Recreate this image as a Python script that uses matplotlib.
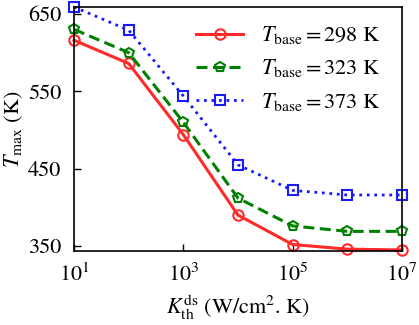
import matplotlib
matplotlib.use("Agg")
import matplotlib.pyplot as plt

k_values = [1e1, 1e2, 1e3, 1e4, 1e5, 1e6, 1e7]
t_298 = [616, 586, 494, 390, 352, 346, 345]
t_323 = [630, 600, 510, 412, 376, 369, 369]
t_373 = [659, 629, 544, 455, 422, 416, 416]
labels = [r'$T_{\rm base} = 298$ K', r'$T_{\rm base} = 323$ K', r'$T_{\rm base} = 373$ K']
x_ticks = [1e1, 1e3, 1e5, 1e7]
x_tick_labels = [r'$10^{1}$', r'$10^{3}$', r'$10^{5}$', r'$10^{7}$']
y_ticks = [350, 450, 550, 650]

plt.rcParams['font.family'] = ['STIXGeneral', 'DejaVu Serif']
plt.rcParams['mathtext.fontset'] = 'stix'

fig = plt.figure(figsize=(4.19, 3.25), dpi=100)
ax = fig.add_axes([0.1766, 0.2286, 0.9594 - 0.1766, 0.9785 - 0.2286])

ax.plot(k_values, t_298, color='#ff2a2a', ls='-', lw=2.2, marker='o', ms=7.5,
        mfc='none', mew=1.5, clip_on=False, label=labels[0])
ax.plot(k_values, t_323, color='#008000', ls=(0, (3.6, 1.8)), lw=2.2, marker='p', ms=7.5,
        mfc='none', mew=1.5, clip_on=False, label=labels[1])
ax.plot(k_values, t_373, color='#1a1aff', ls=(0, (1, 1.7)), lw=2.0, marker='s', ms=7.5,
        mfc='none', mew=1.5, clip_on=False, label=labels[2])

ax.set_xscale('log')
ax.set_xlim(1e1, 1e7)
ax.set_ylim(344, 659)
ax.set_xticks(x_ticks)
ax.set_xticklabels(x_tick_labels)
ax.xaxis.set_minor_locator(matplotlib.ticker.NullLocator())
ax.set_yticks(y_ticks)
ax.tick_params(direction='in', labelsize=16, length=5, width=1, pad=9)
for s in ax.spines.values():
    s.set_linewidth(1.2)

ax.set_xlabel(r'$K_{\rm th}^{\rm ds}$ (W/cm$^2$. K)', fontsize=16, labelpad=5)
ax.set_ylabel(r'$T_{\rm max}$ (K)', fontsize=16, labelpad=2)

leg = ax.legend(loc='upper right', bbox_to_anchor=(0.935, 0.929), frameon=False,
                fontsize=16, handlelength=2.1, borderaxespad=0, borderpad=0,
                labelspacing=0.5, handletextpad=0.8)

fig.savefig('out.png', dpi=100)
